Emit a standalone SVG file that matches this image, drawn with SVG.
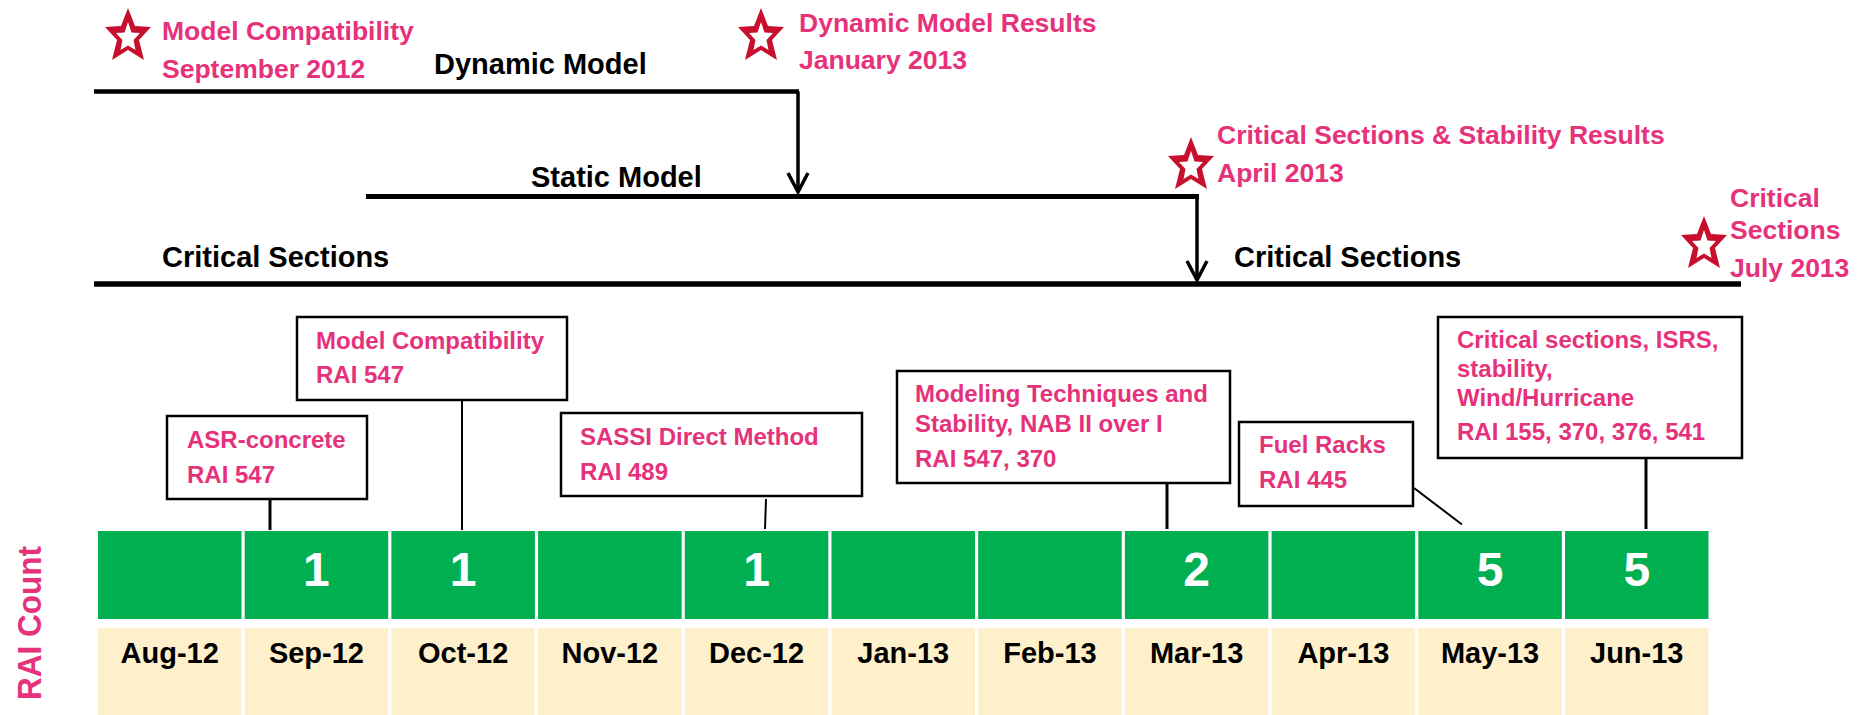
<svg xmlns="http://www.w3.org/2000/svg" xmlns:xlink="http://www.w3.org/1999/xlink" width="1870" height="715" viewBox="0 0 1870 715">
<style>
  text { font-family: "Liberation Sans", Arial, sans-serif; font-weight: bold; }
  .pink { fill: #E6317B; font-size: 26.5px; }
  .blk { fill: #000; font-size: 29px; }
  .box { fill: #fff; stroke: #000; stroke-width: 2.5; }
  .bt { fill: #E6317B; font-size: 24px; }
  .bar { stroke: #000; fill: none; }
  .conn { stroke: #000; fill: none; }
  .green { fill: #00AF50; }
  .beige { fill: #FFF0CC; }
  .num { fill: #fff; font-size: 48px; text-anchor: middle; }
  .mon { fill: #000; font-size: 29px; text-anchor: middle; }
</style>
<defs>
  <g id="star">
    <polygon fill="#C8102E" points="0,-29 7,-11 23,-10 11,3 16,23 0,13 -16,23 -11,3 -23,-10 -7,-11"/>
    <polygon fill="#fff" points="0,-15 3.5,-4.5 12,-4 5.5,3 7.5,13 0,8.5 -7.5,13 -5.5,3 -12,-4 -3.5,-4.5"/>
  </g>
  <marker id="vhead" markerUnits="userSpaceOnUse" viewBox="-3 -3 26 26" markerWidth="26" markerHeight="26" refX="19" refY="10" orient="auto">
    <path d="M0,0 L19,10 L0,20" fill="none" stroke="#000" stroke-width="3.5" stroke-linejoin="miter"/>
  </marker>
</defs>

<rect width="1870" height="715" fill="#fff"/>

<!-- Milestones -->
<g id="milestone-model-compat">
  <use xlink:href="#star" href="#star" x="128" y="37"/>
  <text class="pink" x="162" y="40">Model Compatibility</text>
  <text class="pink" x="162" y="78">September 2012</text>
</g>
<g id="milestone-dynamic-results">
  <use xlink:href="#star" href="#star" x="761" y="37"/>
  <text class="pink" x="799" y="31.5">Dynamic Model Results</text>
  <text class="pink" x="799" y="69">January 2013</text>
</g>
<g id="milestone-critical-stability">
  <use xlink:href="#star" href="#star" x="1191" y="166"/>
  <text class="pink" x="1217" y="144">Critical Sections &amp; Stability Results</text>
  <text class="pink" x="1217" y="181.5">April 2013</text>
</g>
<g id="milestone-critical-july">
  <use xlink:href="#star" href="#star" x="1704" y="245"/>
  <text class="pink" x="1730" y="207">Critical</text>
  <text class="pink" x="1730" y="239">Sections</text>
  <text class="pink" x="1730" y="277">July 2013</text>
</g>

<!-- Phase bars -->
<g id="phase-dynamic">
  <line class="bar" x1="94" y1="91.5" x2="799" y2="91.5" stroke-width="4.5"/>
  <text class="blk" x="434" y="74">Dynamic Model</text>
</g>
<g id="phase-static">
  <line class="bar" x1="366" y1="196.5" x2="1199" y2="196.5" stroke-width="5"/>
  <text class="blk" x="531" y="187">Static Model</text>
</g>
<g id="phase-critical">
  <line class="bar" x1="94" y1="284" x2="1741" y2="284" stroke-width="5.5"/>
  <text class="blk" x="162" y="267">Critical Sections</text>
  <text class="blk" x="1234" y="267">Critical Sections</text>
</g>

<!-- Callout boxes -->
<g id="box-asr">
  <rect class="box" x="167" y="416" width="200" height="83"/>
  <text class="bt" x="187" y="448">ASR-concrete</text>
  <text class="bt" x="187" y="483">RAI 547</text>
</g>
<g id="box-model-compat">
  <rect class="box" x="297" y="317" width="270" height="83"/>
  <text class="bt" x="316" y="349">Model Compatibility</text>
  <text class="bt" x="316" y="383">RAI 547</text>
</g>
<g id="box-sassi">
  <rect class="box" x="561" y="413" width="301" height="83"/>
  <text class="bt" x="580" y="445">SASSI Direct Method</text>
  <text class="bt" x="580" y="480">RAI 489</text>
</g>
<g id="box-modeling">
  <rect class="box" x="897" y="371" width="333" height="112"/>
  <text class="bt" x="915" y="402">Modeling Techniques and</text>
  <text class="bt" x="915" y="432">Stability, NAB II over I</text>
  <text class="bt" x="915" y="467">RAI 547, 370</text>
</g>
<g id="box-fuel">
  <rect class="box" x="1239" y="422" width="174" height="84"/>
  <text class="bt" x="1259" y="453">Fuel Racks</text>
  <text class="bt" x="1259" y="488">RAI 445</text>
</g>
<g id="box-critical">
  <rect class="box" x="1438" y="317" width="304" height="141"/>
  <text class="bt" x="1457" y="348">Critical sections, ISRS,</text>
  <text class="bt" x="1457" y="377">stability,</text>
  <text class="bt" x="1457" y="406">Wind/Hurricane</text>
  <text class="bt" x="1457" y="440">RAI 155, 370, 376, 541</text>
</g>

<!-- Connectors -->
<g id="connectors">
  <line class="conn" x1="798" y1="91.5" x2="798" y2="192" stroke-width="3.5" marker-end="url(#vhead)"/>
  <line class="conn" x1="1197" y1="196.5" x2="1197" y2="280" stroke-width="3.5" marker-end="url(#vhead)"/>
  <line class="conn" x1="270" y1="499" x2="270" y2="530" stroke-width="3"/>
  <line class="conn" x1="462" y1="400" x2="462" y2="530" stroke-width="2"/>
  <line class="conn" x1="766" y1="499" x2="765" y2="529" stroke-width="2"/>
  <line class="conn" x1="1167" y1="483" x2="1167" y2="529" stroke-width="3"/>
  <line class="conn" x1="1414" y1="488" x2="1462" y2="524.5" stroke-width="2"/>
  <line class="conn" x1="1646" y1="458" x2="1646" y2="529" stroke-width="3"/>
</g>

<!-- RAI count label -->
<g id="rai-count-label">
  <text transform="translate(40.5,623) rotate(-90)" text-anchor="middle" fill="#E6317B" font-size="33" textLength="154" lengthAdjust="spacingAndGlyphs">RAI Count</text>
</g>

<!-- Month cells -->
<g id="m-aug12"><rect class="green" x="98" y="531" width="143.5" height="88"/><rect class="beige" x="98" y="628" width="143.5" height="87"/><text class="mon" x="169.75" y="663">Aug-12</text></g>
<g id="m-sep12"><rect class="green" x="244.7" y="531" width="143.5" height="88"/><text class="num" x="316.45" y="586">1</text><rect class="beige" x="244.7" y="628" width="143.5" height="87"/><text class="mon" x="316.45" y="663">Sep-12</text></g>
<g id="m-oct12"><rect class="green" x="391.4" y="531" width="143.5" height="88"/><text class="num" x="463.15" y="586">1</text><rect class="beige" x="391.4" y="628" width="143.5" height="87"/><text class="mon" x="463.15" y="663">Oct-12</text></g>
<g id="m-nov12"><rect class="green" x="538.1" y="531" width="143.5" height="88"/><rect class="beige" x="538.1" y="628" width="143.5" height="87"/><text class="mon" x="609.85" y="663">Nov-12</text></g>
<g id="m-dec12"><rect class="green" x="684.8" y="531" width="143.5" height="88"/><text class="num" x="756.55" y="586">1</text><rect class="beige" x="684.8" y="628" width="143.5" height="87"/><text class="mon" x="756.55" y="663">Dec-12</text></g>
<g id="m-jan13"><rect class="green" x="831.5" y="531" width="143.5" height="88"/><rect class="beige" x="831.5" y="628" width="143.5" height="87"/><text class="mon" x="903.25" y="663">Jan-13</text></g>
<g id="m-feb13"><rect class="green" x="978.2" y="531" width="143.5" height="88"/><rect class="beige" x="978.2" y="628" width="143.5" height="87"/><text class="mon" x="1049.95" y="663">Feb-13</text></g>
<g id="m-mar13"><rect class="green" x="1124.9" y="531" width="143.5" height="88"/><text class="num" x="1196.65" y="586">2</text><rect class="beige" x="1124.9" y="628" width="143.5" height="87"/><text class="mon" x="1196.65" y="663">Mar-13</text></g>
<g id="m-apr13"><rect class="green" x="1271.6" y="531" width="143.5" height="88"/><rect class="beige" x="1271.6" y="628" width="143.5" height="87"/><text class="mon" x="1343.35" y="663">Apr-13</text></g>
<g id="m-may13"><rect class="green" x="1418.3" y="531" width="143.5" height="88"/><text class="num" x="1490.05" y="586">5</text><rect class="beige" x="1418.3" y="628" width="143.5" height="87"/><text class="mon" x="1490.05" y="663">May-13</text></g>
<g id="m-jun13"><rect class="green" x="1565" y="531" width="143.5" height="88"/><text class="num" x="1636.75" y="586">5</text><rect class="beige" x="1565" y="628" width="143.5" height="87"/><text class="mon" x="1636.75" y="663">Jun-13</text></g>
</svg>
